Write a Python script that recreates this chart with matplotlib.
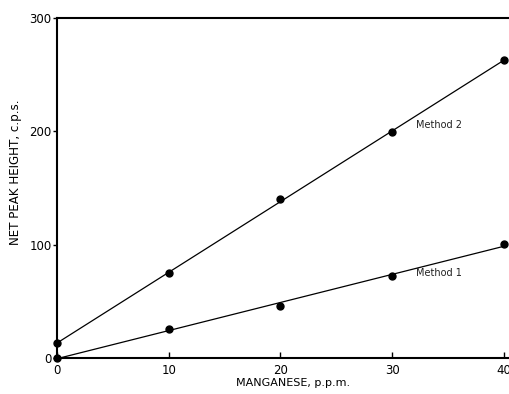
import numpy as np
import matplotlib
matplotlib.use("Agg")
import matplotlib.pyplot as plt

manganese = [0, 10, 20, 30, 40]
method1 = [0, 26, 46, 72, 101]
method2 = [13, 75, 140, 199, 263]
xticks = [0, 10, 20, 30, 40]
yticks = [0, 100, 200, 300]

plt.rcParams['font.family'] = ['DejaVu Sans']
fig = plt.figure(figsize=(5.10, 3.94), dpi=100)
ax = fig.add_axes([57/510, 1-358/394, 1-57/510, (358-18)/394])

x = np.array(manganese)
xx = np.array([0, 40])
for ys in (method1, method2):
    k, b = np.polyfit(x, ys, 1)
    ax.plot(xx, k*xx + b, color='black', lw=0.9, zorder=2)
    ax.plot(x, ys, 'o', color='black', ms=5, zorder=3, clip_on=False)

ax.text(32.1, 203, 'Method 2', fontsize=7, color='#222222')
ax.text(32.1, 72, 'Method 1', fontsize=7, color='#222222')

ax.set_xlim(0, 40.54)
ax.set_ylim(0, 300)
ax.set_xticks(xticks)
ax.set_yticks(yticks)
ax.spines['right'].set_visible(False)
for s in ('left', 'bottom', 'top'):
    ax.spines[s].set_linewidth(1.5)
ax.tick_params(axis='x', direction='in', length=4, width=1, labelsize=8.5, pad=4)
ax.tick_params(axis='y', direction='out', length=3, width=1, labelsize=8.5, pad=1)
ax.set_xlabel('MANGANESE, p.p.m.', fontsize=8)
ax.set_ylabel('NET PEAK HEIGHT, c.p.s.', fontsize=8.6)
ax.xaxis.set_label_coords(0.521, -0.058)
ax.yaxis.set_label_coords(-0.078, 0.547)

fig.savefig('out.png', dpi=100)
